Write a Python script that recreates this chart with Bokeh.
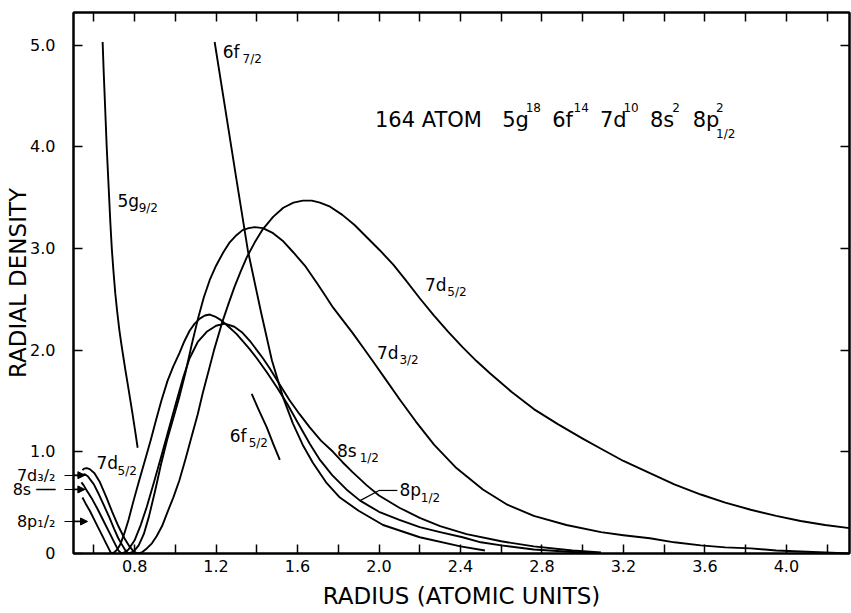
from bokeh.plotting import figure
from bokeh.models import (Label, Arrow, NormalHead, LinearAxis, FixedTicker, Range1d,
                          AllLabels, CustomJSTickFormatter)
from bokeh.embed import file_html
from bokeh.resources import INLINE

# ---------------- data ----------------
r_7d52 = [0.544, 0.552, 0.565, 0.58, 0.603, 0.63, 0.66, 0.69, 0.72, 0.75, 0.775, 0.795,
          0.815, 0.835, 0.86, 0.885, 0.908, 0.935, 0.96, 0.99, 1.02, 1.05, 1.08, 1.11,
          1.135, 1.16, 1.19, 1.228, 1.26, 1.29, 1.32, 1.35, 1.39, 1.43, 1.48, 1.53, 1.58,
          1.626, 1.67, 1.71, 1.76, 1.82, 1.88, 1.94, 2.005, 2.07, 2.13, 2.2, 2.27, 2.34,
          2.41, 2.48, 2.546, 2.65, 2.76, 2.88, 3.0, 3.09, 3.2, 3.33, 3.45, 3.58, 3.7,
          3.825, 3.95, 4.07, 4.19, 4.31]
d_7d52 = [0.82, 0.835, 0.84, 0.83, 0.79, 0.70, 0.56, 0.41, 0.27, 0.15, 0.07, 0.02,
          0.0, 0.01, 0.05, 0.10, 0.17, 0.27, 0.40, 0.55, 0.72, 0.93, 1.15, 1.37,
          1.58, 1.77, 2.0, 2.26, 2.45, 2.62, 2.77, 2.91, 3.06, 3.19, 3.31, 3.40, 3.45,
          3.47, 3.47, 3.45, 3.41, 3.33, 3.23, 3.11, 2.98, 2.84, 2.69, 2.51, 2.34, 2.18,
          2.03, 1.89, 1.77, 1.59, 1.42, 1.27, 1.13, 1.03, 0.91, 0.79, 0.68, 0.58, 0.50,
          0.43, 0.37, 0.32, 0.28, 0.25]

r_7d32 = [0.544, 0.555, 0.57, 0.60, 0.625, 0.65, 0.675, 0.70, 0.72, 0.74, 0.755, 0.77,
          0.785, 0.80, 0.82, 0.845, 0.87, 0.90, 0.93, 0.96, 0.99, 1.021, 1.05, 1.08, 1.11,
          1.14, 1.169, 1.20, 1.235, 1.267, 1.30, 1.33, 1.36, 1.39, 1.43, 1.48, 1.53, 1.58,
          1.64, 1.695, 1.735, 1.774, 1.82, 1.87, 1.92, 1.97, 2.03, 2.10, 2.18, 2.27, 2.38,
          2.51, 2.63, 2.76, 2.92, 3.09, 3.2, 3.33, 3.45, 3.58, 3.7, 3.825, 3.95, 4.07,
          4.19, 4.31]
d_7d32 = [0.77, 0.78, 0.76, 0.68, 0.58, 0.47, 0.36, 0.24, 0.15, 0.08, 0.03, 0.0,
          0.01, 0.03, 0.08, 0.19, 0.36, 0.61, 0.88, 1.12, 1.33, 1.55, 1.78, 2.05, 2.30,
          2.52, 2.69, 2.83, 2.96, 3.06, 3.13, 3.18, 3.20, 3.21, 3.20, 3.15, 3.07, 2.96,
          2.82, 2.66, 2.54, 2.42, 2.30, 2.17, 2.03, 1.89, 1.72, 1.52, 1.30, 1.07, 0.84,
          0.63, 0.48, 0.37, 0.28, 0.21, 0.18, 0.15, 0.11, 0.08, 0.06, 0.05, 0.03, 0.02,
          0.01, 0.0]

r_8s = [0.539, 0.55, 0.565, 0.593, 0.62, 0.65, 0.68, 0.70, 0.72, 0.735, 0.75, 0.77, 0.80,
        0.83, 0.86, 0.895, 0.93, 0.97, 1.006, 1.04, 1.07, 1.11, 1.154, 1.20, 1.243, 1.29,
        1.33, 1.37, 1.40, 1.43, 1.464, 1.51, 1.56, 1.61, 1.66, 1.715, 1.774, 1.82, 1.87,
        1.94, 2.0, 2.1, 2.2, 2.3, 2.43, 2.6, 2.76, 2.95, 3.09]
d_8s = [0.70, 0.67, 0.62, 0.53, 0.43, 0.31, 0.19, 0.11, 0.03, 0.0, 0.01, 0.04, 0.13,
        0.28, 0.46, 0.70, 0.95, 1.24, 1.50, 1.74, 1.92, 2.08, 2.18, 2.24, 2.26, 2.23,
        2.17, 2.08, 2.00, 1.92, 1.82, 1.67, 1.51, 1.37, 1.24, 1.11, 1.00, 0.90, 0.80,
        0.67, 0.57, 0.45, 0.35, 0.27, 0.19, 0.12, 0.07, 0.03, 0.01]

r_8p = [0.544, 0.56, 0.58, 0.60, 0.62, 0.64, 0.66, 0.675, 0.685, 0.70, 0.715, 0.73, 0.75,
        0.77, 0.795, 0.82, 0.85, 0.88, 0.905, 0.931, 0.962, 0.99, 1.02, 1.045, 1.07, 1.095,
        1.12, 1.145, 1.169, 1.195, 1.22, 1.245, 1.267, 1.30, 1.33, 1.365, 1.40, 1.45, 1.50,
        1.55, 1.60, 1.66, 1.71, 1.77, 1.84, 1.907, 2.0, 2.1, 2.2, 2.3, 2.41, 2.5, 2.6,
        2.76, 2.95, 3.09]
d_8p = [0.55, 0.49, 0.42, 0.34, 0.26, 0.18, 0.10, 0.04, 0.0, 0.01, 0.04, 0.09, 0.20,
        0.33, 0.52, 0.70, 0.91, 1.12, 1.31, 1.50, 1.70, 1.84, 1.97, 2.09, 2.19, 2.26,
        2.31, 2.34, 2.35, 2.33, 2.30, 2.26, 2.22, 2.16, 2.09, 2.01, 1.92, 1.78, 1.63,
        1.47, 1.29, 1.08, 0.92, 0.77, 0.63, 0.52, 0.41, 0.33, 0.26, 0.21, 0.16, 0.11, 0.08,
        0.04, 0.015, 0.0]

r_6f72 = [1.193, 1.25, 1.30, 1.356, 1.42, 1.474, 1.528, 1.577, 1.625, 1.676, 1.74, 1.808,
          1.90, 2.02, 2.2, 2.4, 2.52]
d_6f72 = [5.03, 4.31, 3.68, 2.98, 2.38, 1.90, 1.54, 1.28, 1.07, 0.89, 0.70, 0.55,
          0.42, 0.28, 0.16, 0.07, 0.03]

r_6f52 = [1.375, 1.41, 1.449, 1.48, 1.513]
d_6f52 = [1.57, 1.41, 1.24, 1.08, 0.92]

r_5g92 = [0.643, 0.648, 0.653, 0.658, 0.663, 0.669, 0.675, 0.681, 0.688, 0.696, 0.705,
          0.715, 0.725, 0.735, 0.745, 0.755, 0.765, 0.778, 0.79, 0.803, 0.815]
d_5g92 = [5.03, 4.75, 4.50, 4.25, 4.00, 3.75, 3.50, 3.25, 3.00, 2.78, 2.56,
          2.37, 2.20, 2.06, 1.93, 1.80, 1.68, 1.52, 1.37, 1.20, 1.04]

x_ticks = [0.8, 1.2, 1.6, 2.0, 2.4, 2.8, 3.2, 3.6, 4.0]
x_tick_labels = ["0.8", "1.2", "1.6", "2.0", "2.4", "2.8", "3.2", "3.6", "4.0"]
x_minor = [0.6, 1.0, 1.4, 1.8, 2.2, 2.6, 3.0, 3.4, 3.8, 4.2]
y_ticks = [0, 1, 2, 3, 4, 5]
y_tick_labels = ["0", "1.0", "2.0", "3.0", "4.0", "5.0"]
# inner-lobe pointers written at the left edge
side_pos = [0.77, 0.63, 0.315]
side_labels = ["7d\u2083/\u2082", "8s \u2500\u2500", "8p\u2081/\u2082"]

FONT = "DejaVu Sans"

# ---------------- figure ----------------
p = figure(width=851, height=613, x_range=Range1d(0.5, 4.31), y_range=Range1d(0, 5.32),
           output_backend="svg", toolbar_location=None,
           min_border_left=73, min_border_right=2, min_border_top=12, min_border_bottom=60)
p.grid.visible = False
p.background_fill_color = "white"
p.border_fill_color = "white"
p.outline_line_color = "black"
p.outline_line_width = 2

for r, d in [(r_7d52, d_7d52), (r_7d32, d_7d32), (r_8s, d_8s), (r_8p, d_8p),
             (r_6f72, d_6f72), (r_6f52, d_6f52), (r_5g92, d_5g92)]:
    p.line(r, d, line_color="black", line_width=1.9, line_join="round")

def style_axis(ax):
    ax.axis_line_color = "black"
    ax.axis_line_width = 2
    ax.major_tick_in = 9
    ax.major_tick_out = 0
    ax.minor_tick_in = 9
    ax.minor_tick_out = 0
    ax.major_tick_line_width = 1.5
    ax.minor_tick_line_width = 1.5
    ax.major_tick_line_color = "black"
    ax.minor_tick_line_color = "black"
    ax.major_label_text_font = FONT
    ax.major_label_text_font_size = "16px"
    ax.major_label_text_color = "black"
    ax.axis_label_text_font = FONT
    ax.axis_label_text_font_style = "normal"
    ax.axis_label_text_font_size = "23px"
    ax.axis_label_text_color = "black"

xa = p.xaxis[0]
style_axis(xa)
xa.ticker = FixedTicker(ticks=x_ticks, minor_ticks=x_minor)
xa.major_label_overrides = {t: s for t, s in zip(x_ticks, x_tick_labels)}
xa.major_label_standoff = 6
xa.axis_label = "RADIUS (ATOMIC UNITS)"
xa.axis_label_standoff = 8

ya = p.yaxis[0]
style_axis(ya)
ya.ticker = FixedTicker(ticks=y_ticks + side_pos, minor_ticks=side_pos)
ov = {t: s for t, s in zip(y_ticks, y_tick_labels)}
ov.update({t: s for t, s in zip(side_pos, side_labels)})
ya.major_label_overrides = ov
ya.major_label_policy = AllLabels()
ya.major_label_standoff = 9
ya.minor_tick_out = 9
ya.minor_tick_in = 12
ya.minor_tick_line_width = 1.2
ya.axis_label = "RADIAL DENSITY"
ya.axis_label_standoff = -21

blank = CustomJSTickFormatter(code="return ''")
top = LinearAxis(ticker=FixedTicker(ticks=x_ticks + x_minor, minor_ticks=[]), formatter=blank)
style_axis(top)
top.major_label_text_font_size = "2px"
top.major_label_standoff = 0
p.add_layout(top, "above")
right = LinearAxis(ticker=FixedTicker(ticks=y_ticks, minor_ticks=[]), formatter=blank)
style_axis(right)
right.major_label_text_font_size = "2px"
right.major_label_standoff = 0
p.add_layout(right, "right")

# ---------------- text ----------------
def lab(x, y, t, size, align="left"):
    p.add_layout(Label(x=x, y=y, text=t, text_font=FONT, text_font_size=f"{size}px",
                       text_baseline="middle", text_align=align, text_color="black"))

def orb(x, y, main, sub, xs, size=17, subsize=12, dy=-0.07):
    lab(x, y, main, size)
    lab(xs, y + dy, sub, subsize)

# headline with super/subscripts
lab(1.98, 4.26, "164 ATOM", 21)
lab(2.605, 4.26, "5g", 21)
lab(2.72, 4.39, "18", 12)
lab(2.85, 4.26, "6f", 21)
lab(2.955, 4.39, "14", 12)
lab(3.085, 4.26, "7d", 21)
lab(3.20, 4.39, "10", 12)
lab(3.33, 4.26, "8s", 21)
lab(3.44, 4.39, "2", 12)
lab(3.54, 4.26, "8p", 21)
lab(3.655, 4.39, "2", 12)
lab(3.655, 4.13, "1/2", 12)

# curve labels
orb(1.233, 4.93, "6f", "7/2", 1.33)
orb(0.716, 3.47, "5g", "9/2", 0.82)
orb(2.226, 2.64, "7d", "5/2", 2.335)
orb(1.99, 1.97, "7d", "3/2", 2.10)
orb(1.794, 1.01, "8s", "1/2", 1.905)
orb(2.10, 0.62, "8p", "1/2", 2.205)
orb(1.267, 1.16, "6f", "5/2", 1.36)
orb(0.613, 0.886, "7d", "5/2", 0.716)

# leader for 8p1/2 on the right
p.add_layout(Arrow(end=None, x_start=1.907, y_start=0.52, x_end=2.0, y_end=0.62,
                   line_color="black", line_width=1.2))
p.add_layout(Arrow(end=None, x_start=2.0, y_start=0.62, x_end=2.09, y_end=0.62,
                   line_color="black", line_width=1.2))

# arrow heads of the left pointers
for ys, xe in zip(side_pos, [0.556, 0.556, 0.569]):
    p.add_layout(Arrow(end=NormalHead(size=7, fill_color="black", line_color="black"),
                       x_start=0.5, y_start=ys, x_end=xe, y_end=ys,
                       line_color="black", line_width=1.2))

open("out.html", "w").write(file_html(p, INLINE))
